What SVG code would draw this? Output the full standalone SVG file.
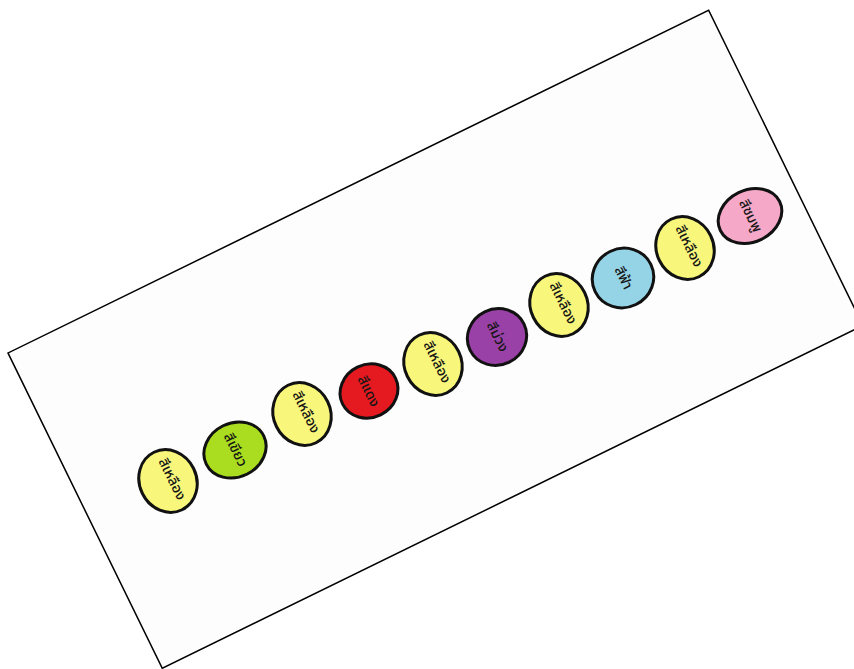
<svg xmlns="http://www.w3.org/2000/svg" width="854" height="669" viewBox="0 0 854 669">
<style>
.frame{fill:#fdfdfd;stroke:#000;stroke-width:1.5}
.bead{stroke:#111;stroke-width:3}
.y{fill:#f9f77b}.g{fill:#aadc20}.r{fill:#e41a20}.p{fill:#9a41a7}.b{fill:#95d4e7}.k{fill:#f6a8c8}
.lbl{font-family:"Noto Sans Thai","Noto Sans","DejaVu Sans",sans-serif;font-size:14px;font-weight:500;fill:#151515;text-anchor:middle}
</style>
<rect class="frame" transform="translate(8,353) rotate(-26.07)" width="780" height="351"/>
<g id="n1" transform="translate(168,481) rotate(-26.07)"><ellipse class="bead y" rx="28.5" ry="32"/><text class="lbl" transform="rotate(90)" y="0">สีเหลือง</text></g>
<g id="n2" transform="translate(235,450) rotate(-26.07)"><ellipse class="bead g" rx="32" ry="27"/><text class="lbl" transform="rotate(90)" y="4">สีเขียว</text></g>
<g id="n3" transform="translate(302,414) rotate(-26.07)"><ellipse class="bead y" rx="28.5" ry="32"/><text class="lbl" transform="rotate(90)" y="0">สีเหลือง</text></g>
<g id="n4" transform="translate(369,391) rotate(-26.07)"><ellipse class="bead r" rx="29.5" ry="26.5"/><text class="lbl" transform="rotate(90)" y="5">สีแดง</text></g>
<g id="n5" transform="translate(433,364) rotate(-26.07)"><ellipse class="bead y" rx="28.5" ry="32"/><text class="lbl" transform="rotate(90)" y="0">สีเหลือง</text></g>
<g id="n6" transform="translate(497,337) rotate(-26.07)"><ellipse class="bead p" rx="30" ry="28"/><text class="lbl" transform="rotate(90)" y="4">สีม่วง</text></g>
<g id="n7" transform="translate(559,305) rotate(-26.07)"><ellipse class="bead y" rx="28.5" ry="32"/><text class="lbl" transform="rotate(90)" y="0">สีเหลือง</text></g>
<g id="n8" transform="translate(623,278) rotate(-26.07)"><ellipse class="bead b" rx="31" ry="29.5"/><text class="lbl" transform="rotate(90)" y="4">สีฟ้า</text></g>
<g id="n9" transform="translate(685,248) rotate(-26.07)"><ellipse class="bead y" rx="28.5" ry="32"/><text class="lbl" transform="rotate(90)" y="0">สีเหลือง</text></g>
<g id="n10" transform="translate(750,216) rotate(-26.07)"><ellipse class="bead k" rx="33" ry="26"/><text class="lbl" transform="rotate(90)" y="4">สีชมพู</text></g>
</svg>
